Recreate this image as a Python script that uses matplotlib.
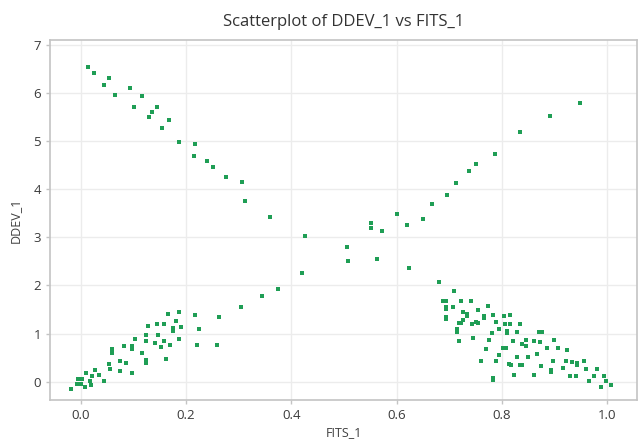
import matplotlib
import matplotlib.pyplot as plt

matplotlib.use("Agg")

# values
# descending arm (top left)
fits_desc = [0.014, 0.024, 0.043, 0.053, 0.065, 0.093, 0.100, 0.116, 0.129, 0.135, 0.145,
             0.155, 0.167, 0.187, 0.216, 0.215, 0.239, 0.251, 0.276, 0.306, 0.312, 0.359]
ddev_desc = [6.53, 6.42, 6.16, 6.30, 5.96, 6.10, 5.70, 5.93, 5.49, 5.61, 5.70,
             5.26, 5.43, 4.97, 4.94, 4.69, 4.58, 4.46, 4.26, 4.14, 3.76, 3.42]

# middle / ascending arm
fits_mid = [0.426, 0.421, 0.375, 0.345, 0.305, 0.262, 0.258,
            0.505, 0.508, 0.562, 0.552, 0.552, 0.572, 0.600, 0.620, 0.650, 0.667,
            0.695, 0.712, 0.738, 0.750, 0.787, 0.835, 0.891, 0.948, 0.624, 0.681, 0.710]
ddev_mid = [3.02, 2.25, 1.92, 1.77, 1.55, 1.35, 0.76,
            2.79, 2.51, 2.54, 3.29, 3.20, 3.13, 3.49, 3.26, 3.38, 3.68,
            3.88, 4.13, 4.37, 4.52, 4.73, 5.18, 5.51, 5.79, 2.36, 2.07, 1.89]

# cluster near the origin
fits_low = [-0.018, -0.008, 0.001, -0.006, 0.002, 0.008, 0.009, 0.017, 0.020, 0.022,
            0.027, 0.035, 0.044, 0.053, 0.056, 0.059, 0.059, 0.075, 0.074, 0.081,
            0.086, 0.098, 0.098, 0.097, 0.103, 0.117, 0.124, 0.124, 0.123, 0.123,
            0.128, 0.140, 0.145, 0.147, 0.153, 0.158, 0.158, 0.162, 0.166, 0.169,
            0.176, 0.176, 0.181, 0.186, 0.186, 0.190, 0.217, 0.224, 0.220]
ddev_low = [-0.15, -0.04, -0.04, 0.05, 0.06, -0.11, 0.19, 0.02, -0.06, 0.12,
            0.24, 0.13, 0.01, 0.37, 0.26, 0.68, 0.60, 0.22, 0.44, 0.74,
            0.39, 0.75, 0.68, 0.18, 0.89, 0.60, 0.45, 0.38, 0.85, 0.98,
            1.16, 0.81, 1.19, 0.96, 0.72, 1.19, 0.85, 0.47, 1.41, 0.77,
            1.12, 1.05, 1.26, 1.44, 0.89, 1.14, 1.38, 1.09, 0.77]

# cluster at the bottom right
fits_high = [0.688, 0.694, 0.722, 0.742, 0.693, 0.693, 0.707, 0.773, 0.726, 0.733,
             0.755, 0.693, 0.693, 0.726, 0.719, 0.723, 0.733, 0.750, 0.755, 0.743,
             0.767, 0.767, 0.783, 0.789, 0.794, 0.805, 0.815, 0.806, 0.816, 0.809,
             0.809, 0.829, 0.714, 0.714, 0.781, 0.719, 0.746, 0.775, 0.822, 0.769,
             0.802, 0.808, 0.795, 0.828, 0.760, 0.788, 0.813, 0.817, 0.824, 0.783,
             0.783, 0.834, 0.871, 0.877, 0.839, 0.845, 0.846, 0.862, 0.873, 0.900,
             0.885, 0.906, 0.923, 0.867, 0.849, 0.834, 0.838, 0.874, 0.898, 0.894,
             0.894, 0.916, 0.921, 0.933, 0.943, 0.943, 0.957, 0.959, 0.981, 0.862,
             0.930, 0.940, 0.976, 0.995, 0.966, 0.997, 0.988, 1.007]
ddev_high = [1.67, 1.67, 1.68, 1.68, 1.56, 1.52, 1.55, 1.58, 1.44, 1.40,
             1.48, 1.35, 1.31, 1.28, 1.21, 1.21, 1.37, 1.23, 1.21, 1.19,
             1.37, 1.33, 1.38, 1.23, 1.10, 1.37, 1.38, 1.19, 1.19, 1.05,
             1.01, 1.04, 1.09, 1.04, 1.01, 0.85, 0.91, 0.87, 0.85, 0.68,
             0.69, 0.69, 0.56, 0.52, 0.42, 0.42, 0.37, 0.35, 0.14, 0.08,
             0.03, 1.20, 1.03, 1.03, 0.79, 0.87, 0.75, 0.84, 0.82, 0.87,
             0.69, 0.69, 0.66, 0.57, 0.51, 0.35, 0.35, 0.32, 0.44, 0.24,
             0.20, 0.29, 0.44, 0.40, 0.39, 0.35, 0.43, 0.26, 0.26, 0.14,
             0.12, 0.12, 0.12, 0.12, 0.01, 0.01, -0.10, -0.06]

x_ticks = [0.0, 0.2, 0.4, 0.6, 0.8, 1.0]
y_ticks = [0, 1, 2, 3, 4, 5, 6, 7]

fits_1 = fits_desc + fits_mid + fits_low + fits_high
ddev_1 = ddev_desc + ddev_mid + ddev_low + ddev_high

plt.rcParams["font.family"] = ["Open Sans", "DejaVu Sans"]

fig = plt.figure(figsize=(6.39, 4.42), dpi=100)
ax = fig.add_axes([0.078, 0.095, 0.919, 0.815])

ax.scatter(fits_1, ddev_1, s=11, marker="s", color="#1f9e55", linewidths=0, zorder=3)

ax.set_xlim(-0.059, 1.057)
ax.set_ylim(-0.38, 7.1)
ax.set_xticks(x_ticks)
ax.set_xticklabels([f"{t:.1f}" for t in x_ticks])
ax.set_yticks(y_ticks)

ax.grid(True, color="#ececec", linewidth=1.0, zorder=0)
ax.set_axisbelow(True)
for side in ["left", "right", "top", "bottom"]:
    ax.spines[side].set_color("#c4c4c4")
    ax.spines[side].set_linewidth(1.2)
ax.tick_params(axis="both", colors="#c4c4c4", labelcolor="#3a3a3a", labelsize=9.5,
               length=3, width=1)

ax.set_title("Scatterplot of DDEV_1 vs FITS_1", fontsize=12, color="#333333", pad=10)
ax.set_xlabel("FITS_1", fontsize=9, color="#404040", labelpad=3)
ax.set_ylabel("DDEV_1", fontsize=9, color="#404040", labelpad=8)

plt.savefig("out.png", dpi=100)
